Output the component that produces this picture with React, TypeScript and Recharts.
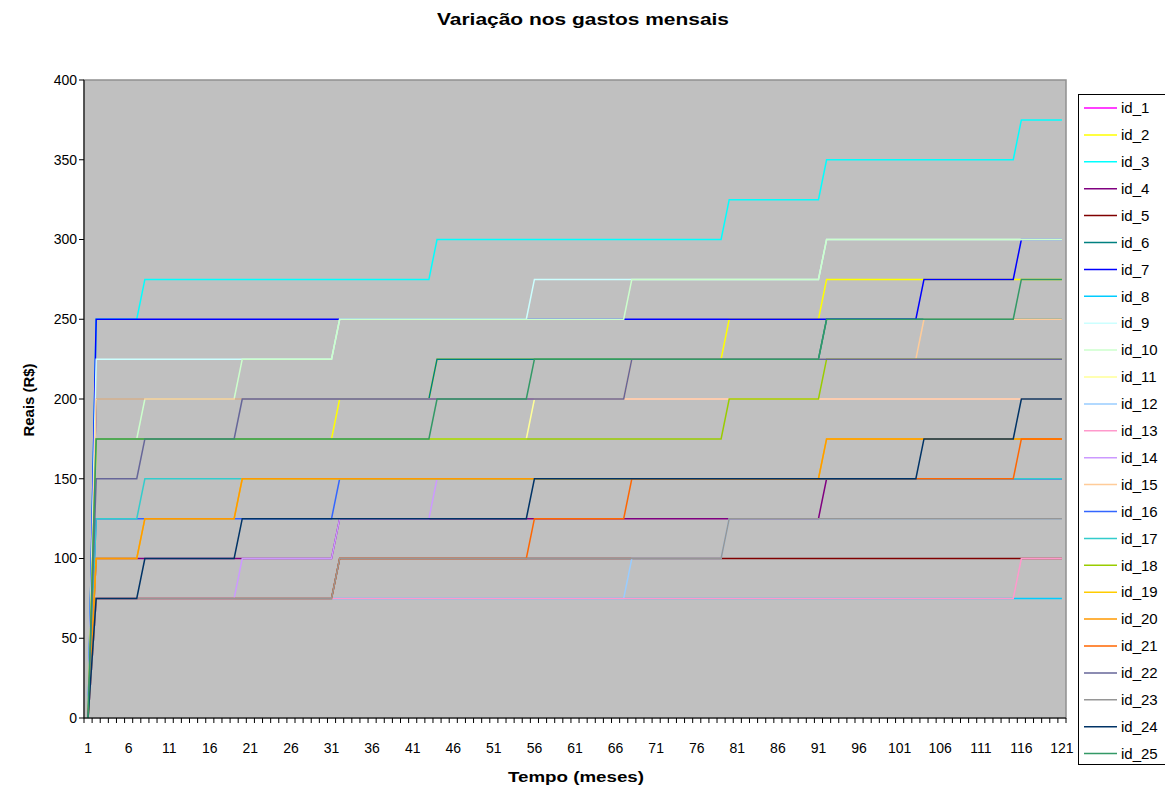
import React from 'react';
import { LineChart, Line, XAxis, YAxis, ReferenceArea } from 'recharts';

// ---- data (levels per contract-year period) ----
// period start months: month 1, months 2-7, 8-19, 20-31, 32-43, 44-55, 56-67, 68-79, 80-91, 92-103, 104-115, 116-121
const periodStart = [1, 2, 8, 20, 32, 44, 56, 68, 80, 92, 104, 116];

const id_1 = [0, 200, 200, 200, 200, 200, 200, 200, 200, 200, 200, 200];
const id_2 = [0, 175, 175, 175, 200, 225, 225, 225, 250, 275, 275, 275];
const id_3 = [0, 250, 275, 275, 275, 300, 300, 300, 325, 350, 350, 375];
const id_4 = [0, 100, 100, 100, 125, 125, 125, 125, 125, 150, 150, 150];
const id_5 = [0, 75, 75, 75, 100, 100, 100, 100, 100, 100, 100, 100];
const id_6 = [0, 200, 200, 200, 200, 225, 225, 225, 225, 250, 250, 250];
const id_7 = [0, 250, 250, 250, 250, 250, 250, 250, 250, 250, 275, 300];
const id_8 = [0, 75, 75, 75, 75, 75, 75, 75, 75, 75, 75, 75];
const id_9 = [0, 225, 225, 225, 250, 250, 275, 275, 275, 300, 300, 300];
const id_10 = [0, 175, 200, 225, 250, 250, 250, 275, 275, 300, 300, 300];
const id_11 = [0, 175, 175, 175, 175, 175, 200, 200, 200, 200, 200, 200];
const id_12 = [0, 75, 75, 75, 75, 75, 75, 100, 125, 125, 125, 125];
const id_13 = [0, 75, 75, 75, 75, 75, 75, 75, 75, 75, 75, 100];
const id_14 = [0, 75, 75, 100, 125, 150, 150, 150, 150, 150, 150, 150];
const id_15 = [0, 200, 200, 200, 200, 200, 200, 225, 225, 225, 250, 250];
const id_16 = [0, 125, 125, 125, 150, 150, 150, 150, 150, 150, 150, 150];
const id_17 = [0, 125, 150, 150, 150, 150, 150, 150, 150, 150, 150, 150];
const id_18 = [0, 175, 175, 175, 175, 175, 175, 175, 200, 225, 225, 225];
const id_19 = [0, 100, 125, 150, 150, 150, 150, 150, 150, 175, 175, 175];
const id_20 = [0, 100, 125, 150, 150, 150, 150, 150, 150, 175, 175, 175];
const id_21 = [0, 75, 75, 75, 100, 100, 125, 150, 150, 150, 150, 175];
const id_22 = [0, 150, 175, 200, 200, 200, 200, 225, 225, 225, 225, 225];
const id_23 = [0, 75, 75, 75, 100, 100, 100, 100, 125, 125, 125, 125];
const id_24 = [0, 75, 100, 125, 125, 125, 150, 150, 150, 150, 175, 200];
const id_25 = [0, 175, 175, 175, 175, 200, 225, 225, 225, 250, 250, 275];

const seriesNames = [
  'id_1', 'id_2', 'id_3', 'id_4', 'id_5', 'id_6', 'id_7', 'id_8', 'id_9', 'id_10',
  'id_11', 'id_12', 'id_13', 'id_14', 'id_15', 'id_16', 'id_17', 'id_18', 'id_19', 'id_20',
  'id_21', 'id_22', 'id_23', 'id_24', 'id_25',
];
const seriesLevels = [
  id_1, id_2, id_3, id_4, id_5, id_6, id_7, id_8, id_9, id_10,
  id_11, id_12, id_13, id_14, id_15, id_16, id_17, id_18, id_19, id_20,
  id_21, id_22, id_23, id_24, id_25,
];
const seriesColors = [
  '#FF00FF', '#FFFF00', '#00FFFF', '#800080', '#800000', '#008080', '#0000FF', '#00CCFF', '#CCFFFF', '#CCFFCC',
  '#FFFF99', '#99CCFF', '#FF99CC', '#CC99FF', '#FFCC99', '#3366FF', '#33CCCC', '#99CC00', '#FFCC00', '#FF9900',
  '#FF6600', '#666699', '#969696', '#003366', '#339966',
];

const months = Array.from({ length: 121 }, (_, i) => i + 1);
const xLabelMonths = [1, 6, 11, 16, 21, 26, 31, 36, 41, 46, 51, 56, 61, 66, 71, 76, 81, 86, 91, 96, 101, 106, 111, 116, 121];
const yTicks = [0, 50, 100, 150, 200, 250, 300, 350, 400];

const data = months.map((m) => {
  let p = 0;
  for (let i = 0; i < periodStart.length; i++) if (periodStart[i] <= m) p = i;
  const row: Record<string, number> = { m };
  seriesNames.forEach((n, k) => {
    row[n] = seriesLevels[k][p];
  });
  return row;
});

// ---- layout ----
const W = 1165;
const H = 785;
const PLOT = { left: 84, top: 80, right: 1066, bottom: 718 };
const Y_AXIS_W = 60;
const X_AXIS_H = 40;
const margin = {
  left: PLOT.left - Y_AXIS_W,
  top: PLOT.top,
  right: W - PLOT.right,
  bottom: H - PLOT.bottom - X_AXIS_H,
};
const STEP = (PLOT.right - PLOT.left) / months.length;
const boundaryTicks = Array.from({ length: months.length + 1 }, (_, i) => i + 0.5);
const FONT = '"Liberation Sans", Arial, sans-serif';

const XTick = (props: any) => {
  const { x, y, payload } = props;
  const m = payload.value + 0.5;
  if (!xLabelMonths.includes(m)) return <g />;
  return (
    <text x={x + STEP / 2} y={y} dy="0.35em" textAnchor="middle" fontSize={14} fontFamily={FONT} fill="#000">
      {m}
    </text>
  );
};

export default function App() {
  return (
    <div style={{ position: 'absolute', left: 0, top: 0, width: W, height: H, overflow: 'hidden', background: '#fff' }}>
      <LineChart width={W} height={H} data={data} margin={margin}>
        <XAxis
          dataKey="m"
          type="number"
          domain={[0.5, 121.5]}
          ticks={boundaryTicks}
          interval={0}
          height={X_AXIS_H}
          tickSize={5}
          tickMargin={25}
          tick={<XTick />}
          stroke="#000"
          tickLine={{ stroke: '#000' }}
          axisLine={{ stroke: '#000' }}
        />
        <YAxis
          type="number"
          domain={[0, 400]}
          ticks={yTicks}
          interval={0}
          width={Y_AXIS_W}
          tickSize={5}
          tickMargin={2}
          stroke="#000"
          tick={{ fontSize: 14, fontFamily: FONT, fill: '#000' }}
        />
        <ReferenceArea x1={0.5} x2={121.5} y1={0} y2={400} fill="#C0C0C0" fillOpacity={1} stroke="#909090" strokeWidth={1.5} ifOverflow="visible" />
        {seriesNames.map((n, k) => (
          <Line
            key={n}
            dataKey={n}
            type="linear"
            stroke={seriesColors[k]}
            strokeWidth={1.5}
            dot={false}
            activeDot={false}
            isAnimationActive={false}
          />
        ))}
      </LineChart>
      <svg width={W} height={H} style={{ position: 'absolute', left: 0, top: 0, pointerEvents: 'none' }}>
        <text x={583} y={25} textAnchor="middle" fontSize={17} fontWeight="bold" fontFamily={FONT} fill="#000" textLength={292} lengthAdjust="spacingAndGlyphs">
          Variação nos gastos mensais
        </text>
        <text x={34} y={400} textAnchor="middle" fontSize={15} fontWeight="bold" fontFamily={FONT} fill="#000" textLength={73} lengthAdjust="spacingAndGlyphs" transform="rotate(-90 34 400)">
          Reais (R$)
        </text>
        <text x={576} y={782} textAnchor="middle" fontSize={15} fontWeight="bold" fontFamily={FONT} fill="#000" textLength={136} lengthAdjust="spacingAndGlyphs">
          Tempo (meses)
        </text>
        <rect x={1078.5} y={94.5} width={120} height={670} fill="#fff" stroke="#000" strokeWidth={1} />
        {seriesNames.map((n, k) => (
          <g key={n}>
            <line x1={1084} x2={1117} y1={108 + k * 26.9} y2={108 + k * 26.9} stroke={seriesColors[k]} strokeWidth={1.5} />
            <text x={1121} y={108 + k * 26.9} dy="0.35em" fontSize={15} fontFamily={FONT} fill="#000">
              {n}
            </text>
          </g>
        ))}
      </svg>
    </div>
  );
}
